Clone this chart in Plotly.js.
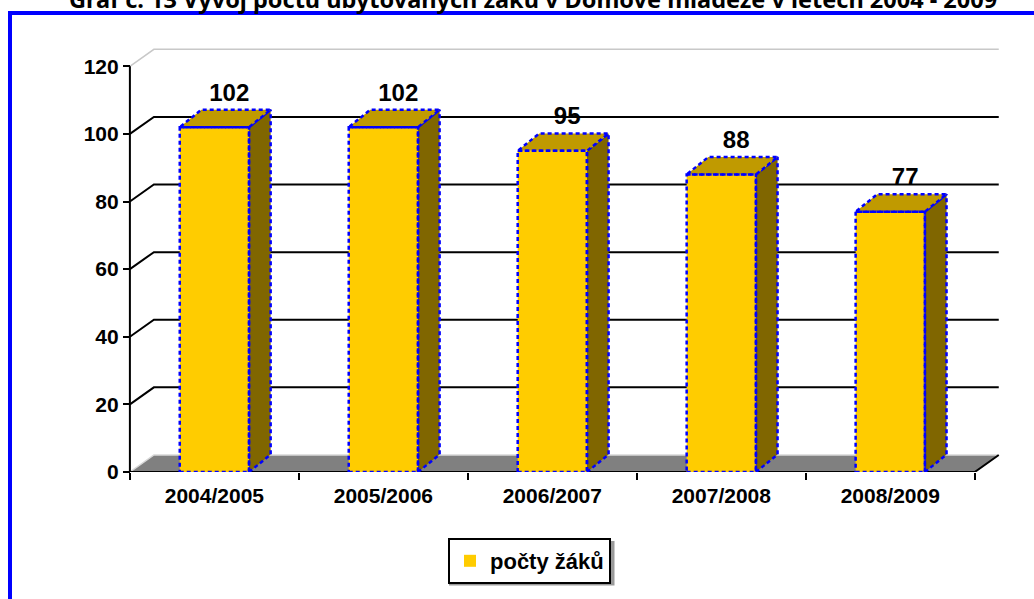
<!DOCTYPE html>
<html>
<head>
<meta charset="utf-8">
<script src="https://cdn.plot.ly/plotly-3.0.1.min.js"></script>
<style>html,body{margin:0;padding:0;background:#fff;overflow:hidden}#chart{width:1034px;height:599px}</style>
</head>
<body>
<div id="chart"></div>
<script>
// ---- data ----
const categories = ['2004/2005', '2005/2006', '2006/2007', '2007/2008', '2008/2009'];
const values = [102, 102, 95, 88, 77];
const yTicks = [0, 20, 40, 60, 80, 100, 120];
const seriesName = 'počty žáků';
const titleText = 'Graf č. 13 Vývoj počtu ubytovaných žáků v Domově mládeže v letech 2004 - 2009';

// ---- layout / style constants ----
const W = 1034, H = 599;
const M = {l: 113, r: 17, t: 46, b: 127};
const XMIN = -0.6, XMAX = 4.75, YMAX = 126;
const WALL_DX = 0.142, WALL_DY = 5.03;   // 3D wall depth (data units)
const BAR_HALF = 0.205, BAR_DX = 0.128, BAR_DY = 5.15; // bar half width, bar depth
const FONT = 'Liberation Sans, Arial, sans-serif';
const C_FRONT = '#FFCC00', C_TOP = '#C09A00', C_SIDE = '#806600', C_OUT = '#0000FF';

const n = categories.length;
const first = -0.5, last = n - 0.5;
const pw = W - M.l - M.r, ph = H - M.t - M.b;
const px2paperX = p => (p - M.l) / pw;
const px2paperY = p => (H - M.b - p) / ph;

const shapes = [];
// floor
shapes.push({type: 'path', xref: 'x2', yref: 'y', layer: 'below',
  path: `M${first},0 L${last},0 L${last + WALL_DX},${WALL_DY} L${first + WALL_DX},${WALL_DY} Z`,
  fillcolor: '#808080', line: {width: 0}});
shapes.push({type: 'path', xref: 'x2', yref: 'y', layer: 'below',
  path: `M${first},0 L${first + WALL_DX},${WALL_DY} L${last + WALL_DX},${WALL_DY}`,
  line: {color: '#D8D8D8', width: 1.5}});
// floor front edge
shapes.push({type: 'path', xref: 'x2', yref: 'y', layer: 'below',
  path: `M${first},0 L${last},0 L${last + WALL_DX},${WALL_DY}`,
  line: {color: '#000', width: 2}});
// back-wall gridlines and left-wall diagonals
yTicks.forEach(v => {
  if (v === 0) return;
  const top = v === yTicks[yTicks.length - 1];
  const col = top ? '#C8C8C8' : '#000';
  const w = top ? 1.5 : 2;
  shapes.push({type: 'path', xref: 'x2', yref: 'y', layer: 'below',
    path: `M${first},${v} L${first + WALL_DX},${v + WALL_DY} L${last + WALL_DX},${v + WALL_DY}`,
    line: {color: col, width: w}});
});
// y axis line (front)
shapes.push({type: 'line', xref: 'x2', yref: 'y', layer: 'below',
  x0: first, x1: first, y0: 0, y1: yTicks[yTicks.length - 1], line: {color: '#000', width: 2}});
// blue outer frame
shapes.push({type: 'rect', xref: 'paper', yref: 'paper', layer: 'above',
  x0: px2paperX(10), x1: px2paperX(W + 20), y0: px2paperY(H + 20), y1: px2paperY(13),
  line: {color: '#0000FF', width: 4}, fillcolor: 'rgba(0,0,0,0)'});
// legend drop shadow
shapes.push({type: 'rect', xref: 'paper', yref: 'paper', layer: 'below',
  x0: px2paperX(449), x1: px2paperX(614.5), y0: px2paperY(585.5), y1: px2paperY(541),
  line: {width: 0}, fillcolor: '#9A9A9A'});

const traces = [];
// front faces
traces.push({type: 'bar', x: categories, y: values, xaxis: 'x', yaxis: 'y',
  width: 2 * BAR_HALF, name: seriesName, marker: {color: C_FRONT, line: {width: 0}},
  hoverinfo: 'skip', showlegend: true});

const outline = {color: C_OUT, width: 2.5, dash: '4px,3px'};
values.forEach((v, i) => {
  const l = i - BAR_HALF, r = i + BAR_HALF;
  // side face
  traces.push({type: 'scatter', xaxis: 'x2', yaxis: 'y', mode: 'lines', fill: 'toself',
    x: [r, r + BAR_DX, r + BAR_DX, r, r], y: [0, BAR_DY, v + BAR_DY, v, 0],
    fillcolor: C_SIDE, line: outline, showlegend: false, hoverinfo: 'skip'});
  // top face
  traces.push({type: 'scatter', xaxis: 'x2', yaxis: 'y', mode: 'lines', fill: 'toself',
    x: [l, r, r + BAR_DX, l + BAR_DX, l], y: [v, v, v + BAR_DY, v + BAR_DY, v],
    fillcolor: C_TOP, line: outline, showlegend: false, hoverinfo: 'skip'});
  // front outline
  traces.push({type: 'scatter', xaxis: 'x2', yaxis: 'y', mode: 'lines',
    x: [l, r, r, l, l], y: [0, 0, v, v, 0],
    line: outline, showlegend: false, hoverinfo: 'skip'});
});
// data labels
traces.push({type: 'scatter', xaxis: 'x2', yaxis: 'y', mode: 'text',
  x: values.map((v, i) => i + 0.088), y: values.map(v => v + BAR_DY + 0.9),
  text: values.map(String), textposition: 'top center',
  textfont: {family: FONT, size: 24, weight: 'bold', color: '#000'},
  showlegend: false, hoverinfo: 'skip', cliponaxis: false});

const layout = {
  width: W, height: H, margin: M,
  paper_bgcolor: '#fff', plot_bgcolor: 'rgba(0,0,0,0)',
  font: {family: FONT, size: 21, weight: 'bold', color: '#000'},
  title: {text: titleText, xref: 'container', yref: 'container', x: 533 / W, xanchor: 'center',
    y: 1, yanchor: 'middle', font: {family: 'Noto Sans', size: 23.5, weight: 'bold', color: '#000'}},
  xaxis: {type: 'category', categoryorder: 'array', categoryarray: categories,
    range: [XMIN, XMAX], tickson: 'boundaries', ticks: 'outside', ticklen: 7, tickwidth: 2,
    tickcolor: '#000', showgrid: false, showline: false, zeroline: false, ticklabelstandoff: 9,
    tickfont: {family: FONT, size: 21, weight: 'bold', color: '#000'}, fixedrange: true},
  xaxis2: {type: 'linear', overlaying: 'x', anchor: 'y', range: [XMIN, XMAX], visible: false, fixedrange: true},
  yaxis: {range: [0, YMAX], anchor: 'free', position: (first - XMIN) / (XMAX - XMIN),
    tickvals: yTicks, ticks: 'outside', ticklen: 7, tickwidth: 2, tickcolor: '#000',
    showgrid: false, showline: false, zeroline: false,
    tickfont: {family: FONT, size: 21, weight: 'bold', color: '#000'}, fixedrange: true},
  legend: {orientation: 'h', xref: 'container', yref: 'container', x: 529.5 / W, xanchor: 'center',
    y: 1 - 561 / H, yanchor: 'middle', bordercolor: '#000', borderwidth: 2, bgcolor: '#fff',
    font: {family: FONT, size: 22, weight: 'bold', color: '#000'}},
  shapes: shapes,
  showlegend: true
};

Plotly.newPlot('chart', traces, layout, {displayModeBar: false, staticPlot: true});
</script>
</body>
</html>
